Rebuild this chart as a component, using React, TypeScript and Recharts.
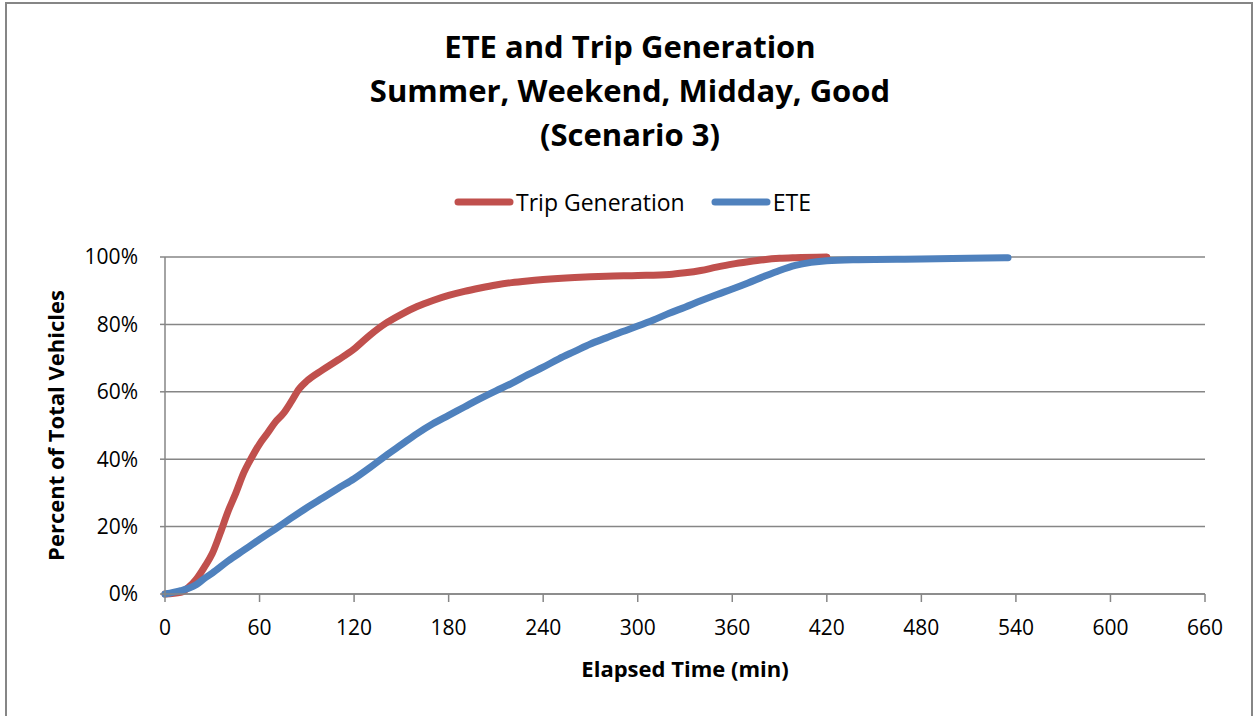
import { LineChart, Line, XAxis, YAxis, CartesianGrid } from "recharts";

const TRIP_ROOD = "#c0504d";
const ETE_BLAUW = "#4f81bd";
const RASTER = "#868686";
const FONT = "'Open Sans', sans-serif";

// Trip Generation (min, fractie van totaal)
const tripTijden = [0, 10, 15, 20, 25, 30, 35, 40, 45, 50, 55, 60, 65, 70, 75, 80, 85, 90, 100, 110, 120, 130, 140, 150, 160, 170, 180, 190, 200, 210, 220, 230, 240, 260, 280, 300, 320, 330, 340, 350, 360, 370, 380, 390, 400, 420];
const tripPct = [0, 0.005, 0.02, 0.045, 0.08, 0.12, 0.18, 0.245, 0.30, 0.36, 0.405, 0.445, 0.477, 0.51, 0.535, 0.57, 0.608, 0.632, 0.665, 0.695, 0.727, 0.768, 0.803, 0.83, 0.853, 0.871, 0.886, 0.898, 0.908, 0.917, 0.924, 0.929, 0.933, 0.939, 0.943, 0.945, 0.948, 0.953, 0.96, 0.97, 0.979, 0.986, 0.992, 0.996, 0.998, 1.0];

// ETE
const eteTijden = [0, 10, 15, 20, 25, 30, 40, 50, 60, 70, 80, 90, 100, 110, 120, 130, 140, 150, 160, 170, 180, 190, 200, 210, 220, 230, 240, 250, 260, 270, 280, 290, 300, 310, 320, 330, 340, 350, 360, 370, 380, 390, 400, 410, 420, 440, 480, 510, 535];
const etePct = [0, 0.01, 0.017, 0.028, 0.046, 0.062, 0.098, 0.13, 0.162, 0.193, 0.225, 0.256, 0.285, 0.314, 0.342, 0.375, 0.41, 0.443, 0.476, 0.505, 0.53, 0.555, 0.58, 0.603, 0.625, 0.65, 0.673, 0.698, 0.72, 0.742, 0.76, 0.778, 0.795, 0.813, 0.833, 0.851, 0.87, 0.888, 0.905, 0.923, 0.942, 0.96, 0.975, 0.984, 0.989, 0.992, 0.994, 0.996, 0.998];

const xTicks = [0, 60, 120, 180, 240, 300, 360, 420, 480, 540, 600, 660];
const yTicks = [0, 0.2, 0.4, 0.6, 0.8, 1.0];

const titelRegels = ["ETE and Trip Generation", "Summer, Weekend, Midday, Good", "(Scenario 3)"];
const legendaItems = [
  { naam: "Trip Generation", kleur: TRIP_ROOD },
  { naam: "ETE", kleur: ETE_BLAUW },
];

const tripData = tripTijden.map((t, i) => ({ t, v: tripPct[i] }));
const eteData = eteTijden.map((t, i) => ({ t, v: etePct[i] }));

export default function App() {
  return (
    <div style={{ position: "absolute", left: 0, top: 0, width: 1254, height: 716, background: "#fff", overflow: "hidden" }}>
      <div style={{ position: "absolute", left: 5, top: 2, width: 1244, height: 740, border: `2px solid ${RASTER}` }} />
      <div style={{ position: "absolute", left: 0, top: 24, width: 1260, textAlign: "center", fontFamily: FONT, fontWeight: 700, fontSize: 31, lineHeight: "44px", color: "#000" }}>
        {titelRegels.map((r) => (
          <div key={r}>{r}</div>
        ))}
      </div>
      <div style={{ position: "absolute", left: 0, top: 187, width: 1265, display: "flex", justifyContent: "center", alignItems: "center", gap: 26, fontFamily: FONT, fontSize: 23, lineHeight: "30px", color: "#000" }}>
        {legendaItems.map((it) => (
          <div key={it.naam} style={{ display: "flex", alignItems: "center" }}>
            <svg width={60} height={10} style={{ marginRight: 2 }}>
              <line x1={4} y1={5} x2={56} y2={5} stroke={it.kleur} strokeWidth={7} strokeLinecap="round" />
            </svg>
            <span>{it.naam}</span>
          </div>
        ))}
      </div>
      <div style={{ position: "absolute", left: 0, top: 0 }}>
        <LineChart width={1254} height={716} margin={{ top: 257, right: 49, bottom: 0, left: 0 }}>
          <CartesianGrid horizontal vertical={false} stroke={RASTER} strokeWidth={1.5} />
          <XAxis
            type="number"
            dataKey="t"
            domain={[0, 660]}
            ticks={xTicks}
            allowDuplicatedCategory={false}
            height={122}
            tickSize={8}
            tickMargin={18}
            stroke={RASTER}
            strokeWidth={1.5}
            tick={{ fill: "#000", fontSize: 21, fontFamily: FONT }}
            label={{ value: "Elapsed Time (min)", position: "insideTop", dy: 62, fill: "#000", fontSize: 22, fontWeight: 700, fontFamily: FONT }}
          />
          <YAxis
            type="number"
            domain={[0, 1]}
            ticks={yTicks}
            width={165}
            tickSize={5}
            tickMargin={22}
            stroke={RASTER}
            strokeWidth={1.5}
            tickFormatter={(v: number) => `${Math.round(v * 100)}%`}
            tick={{ fill: "#000", fontSize: 21, fontFamily: FONT }}
            label={{ value: "Percent of Total Vehicles", angle: -90, position: "center", dx: -26, fill: "#000", fontSize: 22, fontWeight: 700, fontFamily: FONT }}
          />
          <Line data={tripData} dataKey="v" name="Trip Generation" type="monotone" stroke={TRIP_ROOD} strokeWidth={7} dot={false} strokeLinecap="round" isAnimationActive={false} />
          <Line data={eteData} dataKey="v" name="ETE" type="monotone" stroke={ETE_BLAUW} strokeWidth={7} dot={false} strokeLinecap="round" isAnimationActive={false} />
        </LineChart>
      </div>
    </div>
  );
}
